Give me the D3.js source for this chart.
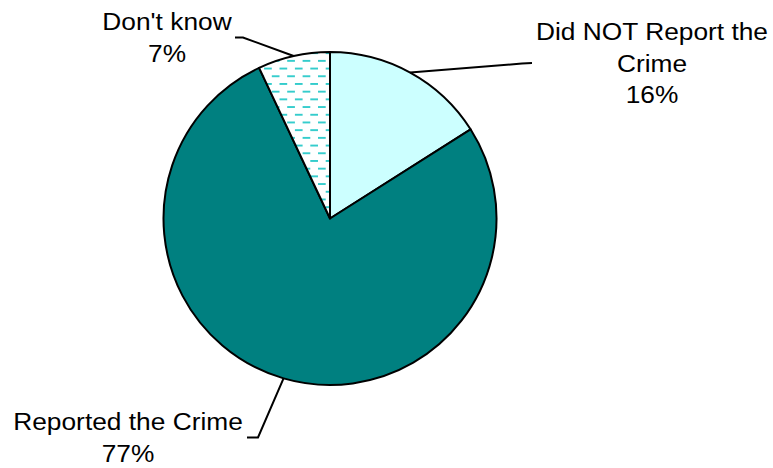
<!DOCTYPE html>
<html>
<head>
<meta charset="utf-8">
<script src="https://cdn.jsdelivr.net/npm/d3@7"></script>
<style>
  html, body { margin: 0; padding: 0; background: #fff; }
  svg { display: block; }
  text { font-family: "Liberation Sans", Arial, sans-serif; fill: #000; }
</style>
</head>
<body>
<svg id="chart" width="773" height="468"></svg>
<script>
// Survey answers: did the respondent report the crime?
const categories = ["Did NOT Report the Crime", "Reported the Crime", "Don't know"];
const labelLines = [["Did NOT Report the", "Crime"], ["Reported the Crime"], ["Don't know"]];
const percents = [16, 77, 7];

const W = 773, H = 468;
const cx = 330, cy = 218.5, R = 166.5;

// Label placement: centre x, first baseline, elbow and end of leader line
const labelLayout = [
  { x: 652, y: 40,  elbow: [522, 63.5], end: [532, 63] },
  { x: 128, y: 430, elbow: [258, 437.5], end: [247, 437.5] },
  { x: 167, y: 30,  elbow: [243, 37.5], end: [235, 37.5] }
];
const lineGap = 31.5;
const fontSize = 23.5, stretch = 1.12;

const svg = d3.select("#chart");

// Dashed fill used for the "Don't know" slice
const defs = svg.append("defs");
const tile = 15.4;
const pat = defs.append("pattern")
  .attr("id", "dashes")
  .attr("patternUnits", "userSpaceOnUse")
  .attr("x", 11.1).attr("y", 3.1)
  .attr("width", tile).attr("height", tile);
pat.append("rect").attr("width", tile).attr("height", tile).attr("fill", "#fff");
pat.append("rect").attr("x", 0).attr("y", 0).attr("width", tile / 2).attr("height", 1.9).attr("fill", "#33cccc");
pat.append("rect").attr("x", tile / 2).attr("y", tile / 2).attr("width", tile / 2).attr("height", 1.9).attr("fill", "#33cccc");

const fills = ["#ccffff", "#008080", "url(#dashes)"];

const pie = d3.pie().sort(null).value(d => d)(percents);
const arc = d3.arc().innerRadius(0).outerRadius(R);

const g = svg.append("g").attr("transform", `translate(${cx},${cy})`);
g.selectAll("path.slice")
  .data(pie)
  .join("path")
  .attr("class", "slice")
  .attr("d", arc)
  .attr("fill", (d, i) => fills[i])
  .attr("stroke", "#000")
  .attr("stroke-width", 2)
  .attr("stroke-linejoin", "round");

// Leader lines from each slice's mid-angle on the rim to its label
const line = d3.line();
pie.forEach((d, i) => {
  const a = (d.startAngle + d.endAngle) / 2;
  const start = [cx + R * Math.sin(a), cy - R * Math.cos(a)];
  const L = labelLayout[i];
  svg.append("path")
    .attr("d", line([start, L.elbow, L.end]))
    .attr("fill", "none")
    .attr("stroke", "#000")
    .attr("stroke-width", 2);
});

// Labels: category name lines plus percentage
pie.forEach((d, i) => {
  const L = labelLayout[i];
  const lines = labelLines[i].concat([percents[i] + "%"]);
  lines.forEach((t, k) => {
    svg.append("text")
      .attr("transform", `translate(${L.x},${L.y + k * lineGap}) scale(${stretch},1)`)
      .attr("text-anchor", "middle")
      .attr("font-size", fontSize)
      .text(t);
  });
});
</script>
</body>
</html>
